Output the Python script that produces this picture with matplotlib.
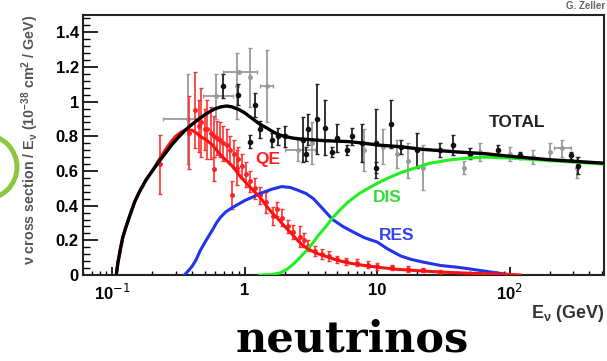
import matplotlib
matplotlib.use("Agg")
import matplotlib.pyplot as plt
from matplotlib.patches import Ellipse
from matplotlib.ticker import FixedLocator, FixedFormatter, LogLocator, MultipleLocator, NullFormatter

plt.rcParams['font.family'] = ['Liberation Sans', 'DejaVu Sans']

# model curves (E in GeV, sigma/E in 1e-38 cm^2/GeV)
total_e = [0.107, 0.11, 0.115, 0.12, 0.127, 0.135, 0.147, 0.16, 0.18, 0.2, 0.225, 0.25, 0.28,
           0.32, 0.36, 0.4, 0.45, 0.5, 0.55, 0.6, 0.66, 0.73, 0.8, 0.9, 1.0, 1.15, 1.3, 1.45,
           1.6, 1.8, 2.0, 2.3, 2.6, 3.2, 4.0, 5.0, 6.0, 8.0, 10, 15, 22, 40, 65, 100, 200, 515]
total_y = [0.0, 0.07, 0.15, 0.22, 0.28, 0.34, 0.42, 0.48, 0.55, 0.6, 0.655, 0.7, 0.75,
           0.8, 0.84, 0.87, 0.9, 0.925, 0.945, 0.96, 0.97, 0.975, 0.97, 0.955, 0.935, 0.9, 0.87,
           0.85, 0.83, 0.81, 0.8, 0.79, 0.785, 0.78, 0.775, 0.772, 0.77, 0.76, 0.75, 0.74, 0.725,
           0.71, 0.7, 0.685, 0.665, 0.645]

qe_e = [0.107, 0.11, 0.115, 0.12, 0.127, 0.135, 0.147, 0.16, 0.18, 0.2, 0.225, 0.25, 0.275,
        0.3, 0.33, 0.36, 0.4, 0.43, 0.46, 0.51, 0.57, 0.62, 0.68, 0.74, 0.8, 0.86, 0.92, 1.0,
        1.15, 1.3, 1.45, 1.6, 1.8, 2.0, 2.25, 2.5, 2.75, 3.0, 3.5, 4.0, 5.0, 6.0, 8.0, 10, 14,
        20, 30, 50, 75, 100, 120]
qe_y = [0.0, 0.07, 0.15, 0.22, 0.28, 0.34, 0.42, 0.48, 0.55, 0.6, 0.665, 0.72, 0.765,
        0.8, 0.825, 0.838, 0.835, 0.82, 0.8, 0.78, 0.75, 0.715, 0.68, 0.655, 0.63, 0.6, 0.57, 0.54,
        0.49, 0.45, 0.4, 0.36, 0.32, 0.28, 0.24, 0.2, 0.17, 0.15, 0.125, 0.11, 0.085, 0.07, 0.055,
        0.045, 0.033, 0.025, 0.017, 0.01, 0.006, 0.003, 0.0]

res_e = [0.35, 0.37, 0.4, 0.43, 0.46, 0.51, 0.57, 0.61, 0.65, 0.72, 0.81, 0.9, 1.0, 1.15, 1.3,
         1.6, 1.9, 2.2, 2.5, 2.9, 3.3, 3.9, 4.6, 5.5, 6.5, 8.0, 10, 12, 15, 18, 22, 30, 40, 50,
         65, 80, 95, 105]
res_y = [0.0, 0.02, 0.05, 0.09, 0.14, 0.2, 0.26, 0.3, 0.33, 0.365, 0.39, 0.41, 0.43, 0.45, 0.47,
         0.495, 0.51, 0.505, 0.49, 0.47, 0.44, 0.38, 0.32, 0.28, 0.25, 0.215, 0.19, 0.15, 0.11,
         0.09, 0.075, 0.055, 0.045, 0.035, 0.022, 0.012, 0.004, 0.0]

dis_e = [1.3, 1.6, 1.85, 2.1, 2.3, 2.6, 2.95, 3.3, 3.6, 4.1, 4.6, 5.3, 6.0, 7.3, 9.0, 11, 13, 15,
         18, 25, 36, 50, 64, 100, 200, 515]
dis_y = [0.0, 0.003, 0.012, 0.035, 0.06, 0.1, 0.145, 0.19, 0.23, 0.28, 0.33, 0.38, 0.42, 0.47,
         0.51, 0.545, 0.57, 0.59, 0.61, 0.645, 0.665, 0.675, 0.68, 0.675, 0.66, 0.64]

# QE data (red)
qe_data_e = [0.23, 0.38, 0.42, 0.45, 0.47, 0.5, 0.52, 0.56, 0.59, 0.62, 0.65, 0.68, 0.73, 0.77,
             0.83, 0.89, 0.95, 1.02, 1.1, 1.2, 1.3, 0.59, 0.8, 0.87, 1.45, 1.63, 1.75, 1.9, 2.1,
             2.3, 2.6, 2.8, 3.0, 3.4, 3.8, 4.3, 5.0, 5.8, 7.0, 8.5, 10, 13, 17, 22, 30]
qe_data_y = [0.64, 0.82, 0.95, 0.86, 0.88, 0.84, 0.84, 0.82, 0.8, 0.79, 0.78, 0.76, 0.75, 0.72,
             0.7, 0.67, 0.63, 0.58, 0.54, 0.5, 0.46, 0.61, 0.46, 0.62, 0.42, 0.34, 0.38, 0.33, 0.28,
             0.25, 0.22, 0.2, 0.17, 0.14, 0.12, 0.11, 0.09, 0.08, 0.07, 0.06, 0.05, 0.045, 0.035,
             0.03, 0.02]
qe_data_err = [0.17, 0.21, 0.22, 0.15, 0.2, 0.12, 0.17, 0.15, 0.12, 0.1, 0.1, 0.1, 0.09, 0.08,
               0.08, 0.07, 0.07, 0.07, 0.06, 0.06, 0.05, 0.07, 0.08, 0.1, 0.06, 0.05, 0.04, 0.05,
               0.04, 0.04, 0.06, 0.04, 0.03, 0.03, 0.03, 0.03, 0.02, 0.02, 0.02, 0.02, 0.02, 0.015,
               0.015, 0.01, 0.01]

# total data (black)
tot_data_e = [0.68, 0.89, 1.19, 1.3, 1.09, 1.6, 1.78, 2.0, 2.75, 2.9, 3.0, 3.5, 4.0, 4.55, 4.97,
              5.9, 6.5, 7.7, 9.8, 9.8, 12.6, 15, 20, 30, 37, 50, 82, 120, 290, 330]
tot_data_y = [1.09, 1.04, 0.98, 0.84, 0.77, 0.78, 0.8, 0.8, 0.78, 0.7, 0.84, 0.9, 0.85, 0.71, 0.79,
              0.72, 0.8, 0.76, 0.62, 0.76, 0.87, 0.74, 0.72, 0.72, 0.75, 0.7, 0.72, 0.69, 0.69, 0.63]
tot_data_err = [0.07, 0.06, 0.07, 0.05, 0.04, 0.04, 0.05, 0.06, 0.13, 0.04, 0.09, 0.2, 0.16, 0.03,
                0.08, 0.03, 0.05, 0.11, 0.03, 0.2, 0.14, 0.04, 0.1, 0.04, 0.06, 0.03, 0.03, 0.02,
                0.02, 0.05]

# total data (grey), with some energy bins
gry_data_e = [0.37, 0.61, 0.87, 0.9, 1.09, 1.46, 2.5, 3.2, 8.0, 11, 14, 17, 22, 45, 60, 100, 150,
              200, 250, 320]
gry_data_y = [0.9, 1.03, 1.09, 1.17, 1.14, 1.09, 0.72, 0.76, 0.72, 0.74, 0.7, 0.66, 0.62, 0.62,
              0.71, 0.7, 0.68, 0.71, 0.73, 0.62]
gry_data_err = [0.26, 0.13, 0.19, 0.0, 0.17, 0.21, 0.06, 0.12, 0.12, 0.1, 0.08, 0.1, 0.13, 0.04,
                0.05, 0.04, 0.04, 0.05, 0.05, 0.06]
gry_data_lo = [0.24, 0.48, 0.87, 0.68, 1.09, 1.3, 2.0, 3.2, 8.0, 11, 14, 17, 22, 45, 60, 100, 150,
               200, 215, 320]
gry_data_hi = [0.47, 0.81, 0.87, 1.23, 1.09, 1.63, 3.4, 3.2, 8.0, 11, 14, 17, 22, 45, 60, 100, 150,
               200, 290, 320]

W, H = 607, 361
fig = plt.figure(figsize=(W / 100, H / 100), dpi=100)
ax = fig.add_axes([83 / W, (H - 275) / H, (604 - 83) / W, (275 - 15) / H])

xerr_g = [[e - lo for e, lo in zip(gry_data_e, gry_data_lo)],
          [hi - e for e, hi in zip(gry_data_e, gry_data_hi)]]
ax.errorbar(gry_data_e, gry_data_y, yerr=gry_data_err, xerr=xerr_g, fmt='o', ms=2.5,
            color='#9a9a9a', ecolor='#9a9a9a', elinewidth=1.3, capsize=1.5, zorder=2)
ax.errorbar(tot_data_e, tot_data_y, yerr=tot_data_err, fmt='o', ms=3,
            color='#111111', ecolor='#222222', elinewidth=1.3, capsize=1.5, zorder=3)
ax.errorbar(qe_data_e, qe_data_y, yerr=qe_data_err, fmt='o', ms=2.5,
            color='#ff2020', ecolor='#ff3030', elinewidth=1.2, capsize=1.5, zorder=3)

ax.plot(res_e, res_y, color='#2233ee', lw=2.2, zorder=4)
ax.plot(dis_e, dis_y, color='#22ee22', lw=2.2, zorder=4)
ax.plot(qe_e, qe_y, color='#ff1010', lw=2.2, zorder=4)
ax.plot(total_e, total_y, color='black', lw=2.4, zorder=5)

ax.text(1.19, 0.665, 'QE', color='#ff2020', fontsize=12.5, fontweight='bold', va='center')
ax.text(9.3, 0.45, 'DIS', color='#33dd33', fontsize=12.5, fontweight='bold', va='center')
ax.text(10.2, 0.23, 'RES', color='#3344ee', fontsize=12.5, fontweight='bold', va='center')
ax.text(69, 0.88, 'TOTAL', color='#222222', fontsize=12.5, fontweight='bold', va='center')

ax.set_xscale('log')
ax.set_xlim(0.06, 515)
ax.set_ylim(0, 1.5)

ax.xaxis.set_major_locator(FixedLocator([0.1, 1, 10, 100]))
ax.xaxis.set_major_formatter(FixedFormatter(['10$^{-1}$', '1', '10', '10$^{2}$']))
ax.xaxis.set_minor_locator(LogLocator(base=10, subs=range(2, 10)))
ax.xaxis.set_minor_formatter(NullFormatter())
ax.set_yticks([0, 0.2, 0.4, 0.6, 0.8, 1.0, 1.2, 1.4])
ax.set_yticklabels(['0', '0.2', '0.4', '0.6', '0.8', '1', '1.2', '1.4'])
ax.yaxis.set_minor_locator(MultipleLocator(0.04))

ax.tick_params(axis='x', which='major', direction='in', length=6, width=1.2, labelsize=12, pad=6)
ax.tick_params(axis='x', which='minor', direction='in', length=3, width=1.0)
ax.tick_params(axis='y', which='major', direction='in', length=11, width=1.2, labelsize=12, pad=3)
ax.tick_params(axis='y', which='minor', direction='in', length=5, width=1.0)
for lab in ax.get_xticklabels() + ax.get_yticklabels():
    lab.set_fontweight('bold')
for sp in ax.spines.values():
    sp.set_linewidth(1.5)
    sp.set_color('#222222')

fig.text(30 / W, 1 - 15 / H,
         'ν cross section / E$_\\mathregular{ν}$ (10$^\\mathregular{-38}$ cm$^\\mathregular{2}$ / GeV)',
         rotation=90, ha='center', va='top', fontsize=10.3, fontweight='bold', color='#555555')
fig.text(605 / W, 1 - 313 / H, 'E$_\\mathregular{ν}$ (GeV)', ha='right', va='center',
         fontsize=13, fontweight='bold', color='#333333')
fig.text(605 / W, 1 - 6 / H, 'G. Zeller', ha='right', va='center', fontsize=7,
         fontweight='bold', color='#666666')
fig.text(352 / W, 1 - 340 / H, 'neutrinos', ha='center', va='center', fontsize=31,
         fontweight='bold', family='DejaVu Serif', color='black')

ring = Ellipse((-15 / W, 1 - 167 / H), 64 / W, 64 / H, transform=fig.transFigure,
               fill=False, edgecolor='#8cc63f', linewidth=3.5, clip_on=False)
fig.patches.append(ring)

fig.savefig('out.png', dpi=100)
